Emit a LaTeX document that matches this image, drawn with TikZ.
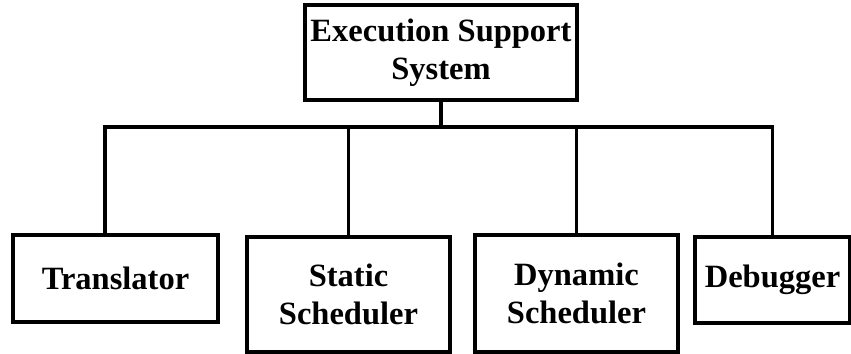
\documentclass[tikz,border=0pt]{standalone}
\usepackage{fontspec}
\setmainfont{Liberation Serif}
\usepackage{tikz}
\usetikzlibrary{calc}

\begin{document}
\begin{tikzpicture}[
    box/.style = {draw, line width = 2pt, align = center, inner sep = 0pt,
                  font = \fontsize{18.5}{21.5}\selectfont\bfseries},
    link/.style = {line width = 2pt}
  ]
    % Parametri
    \pgfmathsetmacro{\W}{17.02};
    \pgfmathsetmacro{\H}{7.06};
    \pgfmathsetmacro{\ybar}{4.52};
    \useasboundingbox (0,0) rectangle (\W,\H);
    % Radice
    \node[box, minimum width = 5.44cm, minimum height = 1.9cm] (ess) at (8.82,6.01){Execution Support\\System};
    % Figli
    \node[box, minimum width = 4.1cm, minimum height = 1.74cm] (trans) at (2.31,1.49){Translator};
    \node[box, minimum width = 4.06cm, minimum height = 2.3cm] (stat) at (6.97,1.17){Static\\Scheduler};
    \node[box, minimum width = 4.06cm, minimum height = 2.34cm] (dyn) at (11.53,1.19){Dynamic\\Scheduler};
    \node[box, minimum width = 3.1cm, minimum height = 1.72cm] (deb) at (15.45,1.46){Debugger};
    % Collegamenti
    \coordinate (bar) at (0,\ybar);
    \coordinate (tstem) at ([xshift = -0.21cm]trans.north);
    \draw[link] (ess.south) -- (ess.south |- bar);
    \draw[link] (tstem) -- (tstem |- bar) -- (deb.north |- bar) -- (deb.north);
    \draw[link] (stat.north) -- (stat.north |- bar);
    \draw[link] (dyn.north) -- (dyn.north |- bar);
\end{tikzpicture}
\end{document}
